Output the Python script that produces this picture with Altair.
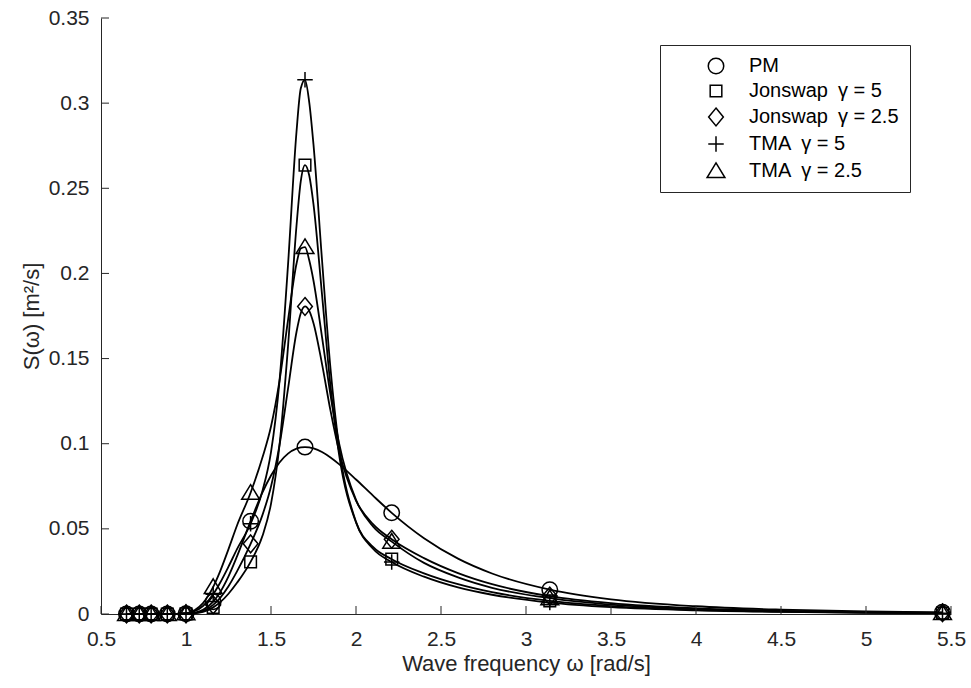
import altair as alt
import pandas as pd

# ---- data ----
omega = [0.65, 0.725, 0.795, 0.89, 1.0, 1.05, 1.1, 1.16, 1.2, 1.25, 1.3, 1.38,
         1.45, 1.5, 1.55, 1.6, 1.65, 1.675, 1.7, 1.725, 1.75,
         1.8, 1.85, 1.9, 2.0, 2.1, 2.21,
         2.4, 2.6, 2.8, 3.14, 3.5, 4.0, 4.5, 5.0, 5.45]

pm = [0, 0, 0, 0.00001, 0.00014, 0.00071, 0.00241, 0.00724, 0.0127, 0.0221, 0.0338, 0.0545,
      0.0714, 0.0813, 0.0890, 0.0942, 0.0971, 0.0978, 0.0980, 0.0978, 0.0972,
      0.0951, 0.0919, 0.0880, 0.0790, 0.0695, 0.0594,
      0.0445, 0.0325, 0.0238, 0.0143, 0.00862, 0.00455, 0.00257, 0.00153, 0.00100]

jonswap5 = [0, 0, 0, 0, 0.00008, 0.00038, 0.0013, 0.0039, 0.0068, 0.0119, 0.0183, 0.0306,
            0.0459, 0.0647, 0.0991, 0.1570, 0.2280, 0.2540, 0.2636, 0.2575, 0.2405,
            0.1877, 0.1338, 0.0939, 0.0538, 0.0394, 0.0322,
            0.0239, 0.0175, 0.0128, 0.0077, 0.00464, 0.00245, 0.00138, 0.00082, 0.00054]

jonswap25 = [0, 0, 0, 0, 0.0001, 0.00052, 0.00178, 0.00534, 0.00936, 0.0163, 0.0250, 0.0412,
             0.0582, 0.0749, 0.0992, 0.1322, 0.1656, 0.1766, 0.1806, 0.1780, 0.1708,
             0.1469, 0.1194, 0.0958, 0.0666, 0.0528, 0.0439,
             0.0328, 0.0240, 0.0175, 0.0105, 0.00635, 0.00335, 0.00189, 0.00113, 0.00074]

tma5 = [0, 0, 0, 0, 0.0004, 0.0016, 0.0047, 0.0116, 0.0182, 0.0278, 0.0381, 0.0530,
        0.0724, 0.0951, 0.1368, 0.2049, 0.2832, 0.3086, 0.3137, 0.3005, 0.2756,
        0.2080, 0.1441, 0.0985, 0.0541, 0.0383, 0.0305,
        0.0219, 0.0156, 0.0113, 0.0067, 0.0040, 0.0021, 0.0012, 0.0007, 0.00046]

tma25 = [0, 0, 0, 0, 0.0005, 0.0022, 0.0064, 0.0159, 0.0249, 0.0381, 0.0520, 0.0712,
         0.0920, 0.1101, 0.1369, 0.1725, 0.2057, 0.2146, 0.2155, 0.2077, 0.1957,
         0.1628, 0.1286, 0.1005, 0.0670, 0.0514, 0.0425,
         0.0300, 0.0215, 0.0154, 0.0093, 0.0055, 0.0029, 0.0016, 0.00096, 0.00063]

marker_omega = [0.65, 0.725, 0.795, 0.89, 1.0, 1.16, 1.38, 1.7, 2.21, 3.14, 5.45]

series_names = ["PM", "Jonswap\u2002\u03b3 = 5", "Jonswap\u2002\u03b3 = 2.5",
                "TMA\u2002\u03b3 = 5", "TMA\u2002\u03b3 = 2.5"]
series_values = [pm, jonswap5, jonswap25, tma5, tma25]

x_ticks = [0.5, 1, 1.5, 2, 2.5, 3, 3.5, 4, 4.5, 5, 5.5]
y_ticks = [0, 0.05, 0.1, 0.15, 0.2, 0.25, 0.3, 0.35]

# ---- build table ----
rows = []
for name, vals in zip(series_names, series_values):
    for w, s in zip(omega, vals):
        rows.append({"series": name, "omega": w, "S": s, "marker": w in marker_omega})
df = pd.DataFrame(rows)

W, H = 850, 596
FONT = "Liberation Sans"
INK = "#262626"

xs = alt.Scale(domain=[0.5, 5.5], nice=False, zero=False)
ys = alt.Scale(domain=[0, 0.35], nice=False)

shapes = [
    "circle",
    "M-0.75,-0.75H0.75V0.75H-0.75Z",
    "M0,-1.15L0.95,0L0,1.15L-0.95,0Z",
    "M-1,0H1M0,-1V1",
    "M0,-1.05L1.15,0.85L-1.15,0.85Z",
]

x_axis = alt.Axis(values=x_ticks, format="~g", tickSize=0, labelPadding=14,
                  labelFontSize=21, labelFont=FONT, labelColor=INK, labelFlush=False,
                  labelOverlap=False, domainColor=INK, domainWidth=1, grid=False,
                  title="Wave frequency \u03c9 [rad/s]", titleFont=FONT, titleFontSize=22,
                  titleFontWeight="normal", titleColor=INK, titlePadding=4)
y_axis = alt.Axis(values=y_ticks, format="~g", tickSize=0, labelPadding=12,
                  labelFontSize=21, labelFont=FONT, labelColor=INK,
                  labelOverlap=False, domainColor=INK, domainWidth=1, grid=False,
                  title="S(\u03c9) [m\u00b2/s]", titleFont=FONT, titleFontSize=22,
                  titleFontWeight="normal", titleColor=INK, titlePadding=5)

lines = alt.Chart(df).mark_line(color="black", strokeWidth=1.8, interpolate="monotone").encode(
    x=alt.X("omega:Q", scale=xs, axis=x_axis),
    y=alt.Y("S:Q", scale=ys, axis=y_axis),
    detail="series:N",
)

points = alt.Chart(df).transform_filter("datum.marker").mark_point(
    filled=False, color="black", strokeWidth=1.5, size=240, opacity=1
).encode(
    x=alt.X("omega:Q", scale=xs, axis=x_axis),
    y=alt.Y("S:Q", scale=ys, axis=y_axis),
    shape=alt.Shape("series:N", scale=alt.Scale(domain=series_names, range=shapes),
                    legend=alt.Legend(title=None, orient="none", legendX=559, legendY=27,
                                      padding=11, strokeColor=INK, fillColor="white",
                                      labelFont=FONT, labelFontSize=20, labelColor="black",
                                      symbolSize=240, symbolStrokeWidth=1.5,
                                      symbolStrokeColor="black", symbolFillColor="transparent",
                                      symbolOffset=35, labelOffset=23, rowPadding=4)),
)

xt = alt.Chart(pd.DataFrame({"omega": x_ticks})).mark_rule(color=INK, strokeWidth=1).encode(
    x=alt.X("omega:Q", scale=xs, axis=x_axis), y=alt.value(H), y2=alt.value(H - 8))
yt = alt.Chart(pd.DataFrame({"S": y_ticks})).mark_rule(color=INK, strokeWidth=1).encode(
    y=alt.Y("S:Q", scale=ys, axis=y_axis), x=alt.value(0), x2=alt.value(8))

chart = alt.layer(lines, xt, yt, points).properties(
    width=W, height=H,
    autosize=alt.AutoSizeParams(type="none"),
    padding={"left": 101, "top": 18, "right": 20, "bottom": 74},
    background="white",
).configure_view(strokeWidth=0)

chart.save("out.html", embed_options={"renderer": "svg", "actions": False})
